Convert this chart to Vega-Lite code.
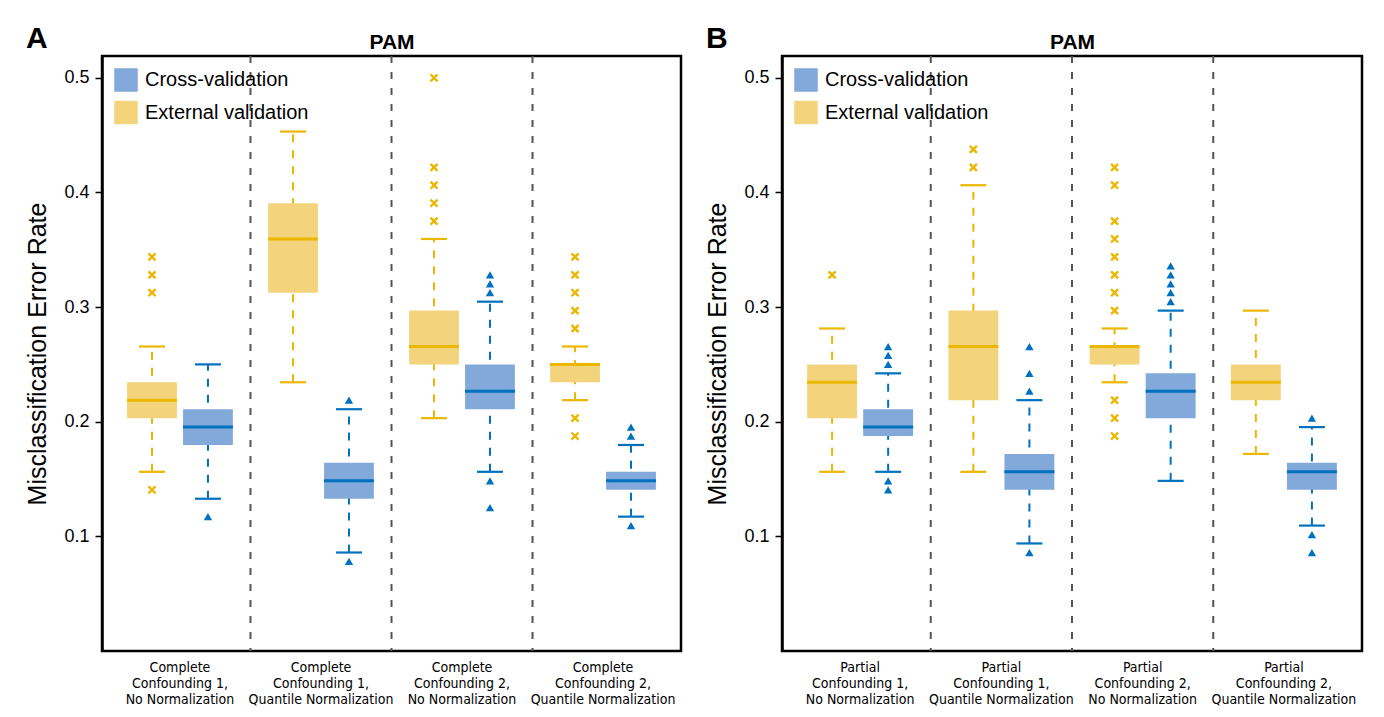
{
  "$schema": "https://vega.github.io/schema/vega-lite/v6.json",
  "background": "white",
  "padding": {"left": 24, "top": 22, "right": 5, "bottom": 5},
  "bounds": "flush",
  "spacing": 101,
  "datasets": {
    "dividers": [
      {"panel": "A", "group": "Complete\nConfounding 1,\nQuantile Normalization"},
      {"panel": "A", "group": "Complete\nConfounding 2,\nNo Normalization"},
      {"panel": "A", "group": "Complete\nConfounding 2,\nQuantile Normalization"},
      {"panel": "B", "group": "Partial\nConfounding 1,\nQuantile Normalization"},
      {"panel": "B", "group": "Partial\nConfounding 2,\nNo Normalization"},
      {"panel": "B", "group": "Partial\nConfounding 2,\nQuantile Normalization"}
    ],
    "boxes": [
      {"panel": "A", "group": "Complete\nConfounding 1,\nNo Normalization", "type": "External validation", "lower": 0.1563, "q1": 0.2031, "median": 0.2188, "q3": 0.2344, "upper": 0.2656},
      {"panel": "A", "group": "Complete\nConfounding 1,\nNo Normalization", "type": "Cross-validation", "lower": 0.1328, "q1": 0.1797, "median": 0.1953, "q3": 0.2109, "upper": 0.25},
      {"panel": "A", "group": "Complete\nConfounding 1,\nQuantile Normalization", "type": "External validation", "lower": 0.2344, "q1": 0.3125, "median": 0.3594, "q3": 0.3906, "upper": 0.4531},
      {"panel": "A", "group": "Complete\nConfounding 1,\nQuantile Normalization", "type": "Cross-validation", "lower": 0.0859, "q1": 0.1328, "median": 0.1484, "q3": 0.1641, "upper": 0.2109},
      {"panel": "A", "group": "Complete\nConfounding 2,\nNo Normalization", "type": "External validation", "lower": 0.2031, "q1": 0.25, "median": 0.2656, "q3": 0.2969, "upper": 0.3594},
      {"panel": "A", "group": "Complete\nConfounding 2,\nNo Normalization", "type": "Cross-validation", "lower": 0.1563, "q1": 0.2109, "median": 0.2266, "q3": 0.25, "upper": 0.3047},
      {"panel": "A", "group": "Complete\nConfounding 2,\nQuantile Normalization", "type": "External validation", "lower": 0.2188, "q1": 0.2344, "median": 0.25, "q3": 0.25, "upper": 0.2656},
      {"panel": "A", "group": "Complete\nConfounding 2,\nQuantile Normalization", "type": "Cross-validation", "lower": 0.1172, "q1": 0.1406, "median": 0.1484, "q3": 0.1563, "upper": 0.1797},
      {"panel": "B", "group": "Partial\nConfounding 1,\nNo Normalization", "type": "External validation", "lower": 0.1563, "q1": 0.2031, "median": 0.2344, "q3": 0.25, "upper": 0.2813},
      {"panel": "B", "group": "Partial\nConfounding 1,\nNo Normalization", "type": "Cross-validation", "lower": 0.1563, "q1": 0.1875, "median": 0.1953, "q3": 0.2109, "upper": 0.2422},
      {"panel": "B", "group": "Partial\nConfounding 1,\nQuantile Normalization", "type": "External validation", "lower": 0.1563, "q1": 0.2188, "median": 0.2656, "q3": 0.2969, "upper": 0.4063},
      {"panel": "B", "group": "Partial\nConfounding 1,\nQuantile Normalization", "type": "Cross-validation", "lower": 0.0938, "q1": 0.1406, "median": 0.1563, "q3": 0.1719, "upper": 0.2188},
      {"panel": "B", "group": "Partial\nConfounding 2,\nNo Normalization", "type": "External validation", "lower": 0.2344, "q1": 0.25, "median": 0.2656, "q3": 0.2656, "upper": 0.2813},
      {"panel": "B", "group": "Partial\nConfounding 2,\nNo Normalization", "type": "Cross-validation", "lower": 0.1484, "q1": 0.2031, "median": 0.2266, "q3": 0.2422, "upper": 0.2969},
      {"panel": "B", "group": "Partial\nConfounding 2,\nQuantile Normalization", "type": "External validation", "lower": 0.1719, "q1": 0.2188, "median": 0.2344, "q3": 0.25, "upper": 0.2969},
      {"panel": "B", "group": "Partial\nConfounding 2,\nQuantile Normalization", "type": "Cross-validation", "lower": 0.1094, "q1": 0.1406, "median": 0.1563, "q3": 0.1641, "upper": 0.1953}
    ],
    "outliers": [
      {"panel": "A", "group": "Complete\nConfounding 1,\nNo Normalization", "type": "External validation", "value": 0.3438},
      {"panel": "A", "group": "Complete\nConfounding 1,\nNo Normalization", "type": "External validation", "value": 0.3281},
      {"panel": "A", "group": "Complete\nConfounding 1,\nNo Normalization", "type": "External validation", "value": 0.3125},
      {"panel": "A", "group": "Complete\nConfounding 1,\nNo Normalization", "type": "External validation", "value": 0.1406},
      {"panel": "A", "group": "Complete\nConfounding 1,\nNo Normalization", "type": "Cross-validation", "value": 0.1172},
      {"panel": "A", "group": "Complete\nConfounding 1,\nQuantile Normalization", "type": "Cross-validation", "value": 0.2188},
      {"panel": "A", "group": "Complete\nConfounding 1,\nQuantile Normalization", "type": "Cross-validation", "value": 0.0781},
      {"panel": "A", "group": "Complete\nConfounding 2,\nNo Normalization", "type": "External validation", "value": 0.5},
      {"panel": "A", "group": "Complete\nConfounding 2,\nNo Normalization", "type": "External validation", "value": 0.4219},
      {"panel": "A", "group": "Complete\nConfounding 2,\nNo Normalization", "type": "External validation", "value": 0.4063},
      {"panel": "A", "group": "Complete\nConfounding 2,\nNo Normalization", "type": "External validation", "value": 0.3906},
      {"panel": "A", "group": "Complete\nConfounding 2,\nNo Normalization", "type": "External validation", "value": 0.375},
      {"panel": "A", "group": "Complete\nConfounding 2,\nNo Normalization", "type": "Cross-validation", "value": 0.3281},
      {"panel": "A", "group": "Complete\nConfounding 2,\nNo Normalization", "type": "Cross-validation", "value": 0.3203},
      {"panel": "A", "group": "Complete\nConfounding 2,\nNo Normalization", "type": "Cross-validation", "value": 0.3125},
      {"panel": "A", "group": "Complete\nConfounding 2,\nNo Normalization", "type": "Cross-validation", "value": 0.1484},
      {"panel": "A", "group": "Complete\nConfounding 2,\nNo Normalization", "type": "Cross-validation", "value": 0.125},
      {"panel": "A", "group": "Complete\nConfounding 2,\nQuantile Normalization", "type": "External validation", "value": 0.3438},
      {"panel": "A", "group": "Complete\nConfounding 2,\nQuantile Normalization", "type": "External validation", "value": 0.3281},
      {"panel": "A", "group": "Complete\nConfounding 2,\nQuantile Normalization", "type": "External validation", "value": 0.3125},
      {"panel": "A", "group": "Complete\nConfounding 2,\nQuantile Normalization", "type": "External validation", "value": 0.2969},
      {"panel": "A", "group": "Complete\nConfounding 2,\nQuantile Normalization", "type": "External validation", "value": 0.2813},
      {"panel": "A", "group": "Complete\nConfounding 2,\nQuantile Normalization", "type": "External validation", "value": 0.2031},
      {"panel": "A", "group": "Complete\nConfounding 2,\nQuantile Normalization", "type": "External validation", "value": 0.1875},
      {"panel": "A", "group": "Complete\nConfounding 2,\nQuantile Normalization", "type": "Cross-validation", "value": 0.1953},
      {"panel": "A", "group": "Complete\nConfounding 2,\nQuantile Normalization", "type": "Cross-validation", "value": 0.1875},
      {"panel": "A", "group": "Complete\nConfounding 2,\nQuantile Normalization", "type": "Cross-validation", "value": 0.1094},
      {"panel": "B", "group": "Partial\nConfounding 1,\nNo Normalization", "type": "External validation", "value": 0.3281},
      {"panel": "B", "group": "Partial\nConfounding 1,\nNo Normalization", "type": "Cross-validation", "value": 0.2656},
      {"panel": "B", "group": "Partial\nConfounding 1,\nNo Normalization", "type": "Cross-validation", "value": 0.2578},
      {"panel": "B", "group": "Partial\nConfounding 1,\nNo Normalization", "type": "Cross-validation", "value": 0.25},
      {"panel": "B", "group": "Partial\nConfounding 1,\nNo Normalization", "type": "Cross-validation", "value": 0.1484},
      {"panel": "B", "group": "Partial\nConfounding 1,\nNo Normalization", "type": "Cross-validation", "value": 0.1406},
      {"panel": "B", "group": "Partial\nConfounding 1,\nQuantile Normalization", "type": "External validation", "value": 0.4375},
      {"panel": "B", "group": "Partial\nConfounding 1,\nQuantile Normalization", "type": "External validation", "value": 0.4219},
      {"panel": "B", "group": "Partial\nConfounding 1,\nQuantile Normalization", "type": "Cross-validation", "value": 0.2656},
      {"panel": "B", "group": "Partial\nConfounding 1,\nQuantile Normalization", "type": "Cross-validation", "value": 0.2422},
      {"panel": "B", "group": "Partial\nConfounding 1,\nQuantile Normalization", "type": "Cross-validation", "value": 0.2266},
      {"panel": "B", "group": "Partial\nConfounding 1,\nQuantile Normalization", "type": "Cross-validation", "value": 0.0859},
      {"panel": "B", "group": "Partial\nConfounding 2,\nNo Normalization", "type": "External validation", "value": 0.4219},
      {"panel": "B", "group": "Partial\nConfounding 2,\nNo Normalization", "type": "External validation", "value": 0.4063},
      {"panel": "B", "group": "Partial\nConfounding 2,\nNo Normalization", "type": "External validation", "value": 0.375},
      {"panel": "B", "group": "Partial\nConfounding 2,\nNo Normalization", "type": "External validation", "value": 0.3594},
      {"panel": "B", "group": "Partial\nConfounding 2,\nNo Normalization", "type": "External validation", "value": 0.3438},
      {"panel": "B", "group": "Partial\nConfounding 2,\nNo Normalization", "type": "External validation", "value": 0.3281},
      {"panel": "B", "group": "Partial\nConfounding 2,\nNo Normalization", "type": "External validation", "value": 0.3125},
      {"panel": "B", "group": "Partial\nConfounding 2,\nNo Normalization", "type": "External validation", "value": 0.2969},
      {"panel": "B", "group": "Partial\nConfounding 2,\nNo Normalization", "type": "External validation", "value": 0.2188},
      {"panel": "B", "group": "Partial\nConfounding 2,\nNo Normalization", "type": "External validation", "value": 0.2031},
      {"panel": "B", "group": "Partial\nConfounding 2,\nNo Normalization", "type": "External validation", "value": 0.1875},
      {"panel": "B", "group": "Partial\nConfounding 2,\nNo Normalization", "type": "Cross-validation", "value": 0.3359},
      {"panel": "B", "group": "Partial\nConfounding 2,\nNo Normalization", "type": "Cross-validation", "value": 0.3281},
      {"panel": "B", "group": "Partial\nConfounding 2,\nNo Normalization", "type": "Cross-validation", "value": 0.3203},
      {"panel": "B", "group": "Partial\nConfounding 2,\nNo Normalization", "type": "Cross-validation", "value": 0.3125},
      {"panel": "B", "group": "Partial\nConfounding 2,\nNo Normalization", "type": "Cross-validation", "value": 0.3047},
      {"panel": "B", "group": "Partial\nConfounding 2,\nQuantile Normalization", "type": "Cross-validation", "value": 0.2031},
      {"panel": "B", "group": "Partial\nConfounding 2,\nQuantile Normalization", "type": "Cross-validation", "value": 0.1016},
      {"panel": "B", "group": "Partial\nConfounding 2,\nQuantile Normalization", "type": "Cross-validation", "value": 0.0859}
    ]
  },
  "hconcat": [
    {
      "title": {"text": "A", "anchor": "start", "frame": "bounds", "fontSize": 30, "fontWeight": "bold", "baseline": "alphabetic", "offset": 0, "dy": 47, "color": "black"},
      "width": 579,
      "height": 595,
      "resolve": {"axis": {"x": "independent"}},
      "layer": [
        {
          "data": {"name": "dividers"},
          "transform": [{"filter": "datum.panel == 'A'"}],
          "mark": {"type": "rule", "color": "#555555", "strokeWidth": 2, "strokeDash": [7, 9]},
          "encoding": {
            "x": {"field": "group", "type": "nominal", "bandPosition": 0, "scale": {"paddingInner": 0, "paddingOuter": 0.053},
                  "axis": {"orient": "top", "title": "PAM", "labels": false, "ticks": false, "domain": false, "titleFontSize": 21, "titleFontWeight": "bold", "titleBaseline": "alphabetic", "titlePadding": 8, "titleColor": "black"}}
          }
        },
        {
          "data": {"name": "boxes"},
          "transform": [{"filter": "datum.panel == 'A'"}],
          "mark": {"type": "rule", "strokeWidth": 2, "strokeDash": [8, 8]},
          "encoding": {
            "x": {"field": "group", "type": "nominal", "axis": null},
            "xOffset": {"field": "type", "type": "nominal", "scale": {"domain": ["External validation", "Cross-validation"], "paddingInner": 0.11, "paddingOuter": 0.315}},
            "y": {"field": "lower", "type": "quantitative", "title": "Misclassification Error Rate", "scale": {"domain": [0, 0.519], "nice": false, "zero": false}, "axis": {"values": [0.1, 0.2, 0.3, 0.4, 0.5], "format": ".1f"}},
            "y2": {"field": "upper"},
            "color": {"field": "type", "type": "nominal", "scale": {"domain": ["External validation", "Cross-validation"], "range": ["#EBB700", "#0071BF"]}, "legend": null}
          }
        },
        {
          "data": {"name": "boxes"},
          "transform": [{"filter": "datum.panel == 'A'"}],
          "mark": {"type": "bar", "opacity": 1},
          "encoding": {
            "x": {"field": "group", "type": "nominal", "axis": {"orient": "bottom", "title": null, "labelAngle": 0, "ticks": false, "domain": false, "labelExpr": "split(datum.label, '\\n')", "labelFont": "Liberation Sans Narrow, DejaVu Sans Condensed, sans-serif", "labelFontSize": 14, "labelLineHeight": 16, "labelPadding": 9, "labelColor": "black", "labelLimit": 0}},
            "xOffset": {"field": "type", "type": "nominal"},
            "y": {"field": "q1", "type": "quantitative", "title": "Misclassification Error Rate", "axis": {"values": [0.1, 0.2, 0.3, 0.4, 0.5], "format": ".1f"}},
            "y2": {"field": "q3"},
            "fill": {"field": "type", "type": "nominal", "scale": {"domain": ["Cross-validation", "External validation"], "range": ["#82A9DA", "#F3D47D"]},
                     "legend": {"orient": "top-left", "title": null, "offset": 11.5, "padding": 0, "symbolType": "square", "symbolSize": 552, "symbolStrokeWidth": 0, "symbolOpacity": 1, "labelFontSize": 20, "labelOffset": 7, "rowPadding": 8.5, "labelColor": "black", "labelLimit": 0}}
          }
        },
        {
          "data": {"name": "boxes"},
          "transform": [{"filter": "datum.panel == 'A'"}],
          "mark": {"type": "tick", "orient": "horizontal", "size": 50, "thickness": 3, "opacity": 1},
          "encoding": {
            "x": {"field": "group", "type": "nominal", "axis": null},
            "xOffset": {"field": "type", "type": "nominal"},
            "y": {"field": "median", "type": "quantitative", "title": "Misclassification Error Rate"},
            "color": {"field": "type", "type": "nominal", "legend": null}
          }
        },
        {
          "data": {"name": "boxes"},
          "transform": [{"filter": "datum.panel == 'A'"}],
          "mark": {"type": "tick", "orient": "horizontal", "size": 26, "thickness": 2.2, "opacity": 1},
          "encoding": {
            "x": {"field": "group", "type": "nominal", "axis": null},
            "xOffset": {"field": "type", "type": "nominal"},
            "y": {"field": "lower", "type": "quantitative", "title": "Misclassification Error Rate"},
            "color": {"field": "type", "type": "nominal", "legend": null}
          }
        },
        {
          "data": {"name": "boxes"},
          "transform": [{"filter": "datum.panel == 'A'"}],
          "mark": {"type": "tick", "orient": "horizontal", "size": 26, "thickness": 2.2, "opacity": 1},
          "encoding": {
            "x": {"field": "group", "type": "nominal", "axis": null},
            "xOffset": {"field": "type", "type": "nominal"},
            "y": {"field": "upper", "type": "quantitative", "title": "Misclassification Error Rate"},
            "color": {"field": "type", "type": "nominal", "legend": null}
          }
        },
        {
          "data": {"name": "outliers"},
          "transform": [{"filter": "datum.panel == 'A' && datum.type == 'External validation'"}],
          "mark": {"type": "point", "shape": "M-1,-1L1,1M-1,1L1,-1", "filled": false, "stroke": "#EBB700", "strokeWidth": 2.4, "size": 50, "opacity": 1},
          "encoding": {
            "x": {"field": "group", "type": "nominal", "axis": null},
            "xOffset": {"field": "type", "type": "nominal"},
            "y": {"field": "value", "type": "quantitative", "title": "Misclassification Error Rate"}
          }
        },
        {
          "data": {"name": "outliers"},
          "transform": [{"filter": "datum.panel == 'A' && datum.type == 'Cross-validation'"}],
          "mark": {"type": "point", "shape": "triangle-up", "filled": true, "fill": "#0071BF", "size": 70, "opacity": 1},
          "encoding": {
            "x": {"field": "group", "type": "nominal", "axis": null},
            "xOffset": {"field": "type", "type": "nominal"},
            "y": {"field": "value", "type": "quantitative", "title": "Misclassification Error Rate"}
          }
        }
      ]
    },
    {
      "title": {"text": "B", "anchor": "start", "frame": "bounds", "fontSize": 30, "fontWeight": "bold", "baseline": "alphabetic", "offset": 0, "dy": 47, "color": "black"},
      "width": 580,
      "height": 595,
      "resolve": {"axis": {"x": "independent"}},
      "layer": [
        {
          "data": {"name": "dividers"},
          "transform": [{"filter": "datum.panel == 'B'"}],
          "mark": {"type": "rule", "color": "#555555", "strokeWidth": 2, "strokeDash": [7, 9]},
          "encoding": {
            "x": {"field": "group", "type": "nominal", "bandPosition": 0, "scale": {"paddingInner": 0, "paddingOuter": 0.053},
                  "axis": {"orient": "top", "title": "PAM", "labels": false, "ticks": false, "domain": false, "titleFontSize": 21, "titleFontWeight": "bold", "titleBaseline": "alphabetic", "titlePadding": 8, "titleColor": "black"}}
          }
        },
        {
          "data": {"name": "boxes"},
          "transform": [{"filter": "datum.panel == 'B'"}],
          "mark": {"type": "rule", "strokeWidth": 2, "strokeDash": [8, 8]},
          "encoding": {
            "x": {"field": "group", "type": "nominal", "axis": null},
            "xOffset": {"field": "type", "type": "nominal", "scale": {"domain": ["External validation", "Cross-validation"], "paddingInner": 0.11, "paddingOuter": 0.315}},
            "y": {"field": "lower", "type": "quantitative", "title": "Misclassification Error Rate", "scale": {"domain": [0, 0.519], "nice": false, "zero": false}, "axis": {"values": [0.1, 0.2, 0.3, 0.4, 0.5], "format": ".1f"}},
            "y2": {"field": "upper"},
            "color": {"field": "type", "type": "nominal", "scale": {"domain": ["External validation", "Cross-validation"], "range": ["#EBB700", "#0071BF"]}, "legend": null}
          }
        },
        {
          "data": {"name": "boxes"},
          "transform": [{"filter": "datum.panel == 'B'"}],
          "mark": {"type": "bar", "opacity": 1},
          "encoding": {
            "x": {"field": "group", "type": "nominal", "axis": {"orient": "bottom", "title": null, "labelAngle": 0, "ticks": false, "domain": false, "labelExpr": "split(datum.label, '\\n')", "labelFont": "Liberation Sans Narrow, DejaVu Sans Condensed, sans-serif", "labelFontSize": 14, "labelLineHeight": 16, "labelPadding": 9, "labelColor": "black", "labelLimit": 0}},
            "xOffset": {"field": "type", "type": "nominal"},
            "y": {"field": "q1", "type": "quantitative", "title": "Misclassification Error Rate", "axis": {"values": [0.1, 0.2, 0.3, 0.4, 0.5], "format": ".1f"}},
            "y2": {"field": "q3"},
            "fill": {"field": "type", "type": "nominal", "scale": {"domain": ["Cross-validation", "External validation"], "range": ["#82A9DA", "#F3D47D"]},
                     "legend": {"orient": "top-left", "title": null, "offset": 11.5, "padding": 0, "symbolType": "square", "symbolSize": 552, "symbolStrokeWidth": 0, "symbolOpacity": 1, "labelFontSize": 20, "labelOffset": 7, "rowPadding": 8.5, "labelColor": "black", "labelLimit": 0}}
          }
        },
        {
          "data": {"name": "boxes"},
          "transform": [{"filter": "datum.panel == 'B'"}],
          "mark": {"type": "tick", "orient": "horizontal", "size": 50, "thickness": 3, "opacity": 1},
          "encoding": {
            "x": {"field": "group", "type": "nominal", "axis": null},
            "xOffset": {"field": "type", "type": "nominal"},
            "y": {"field": "median", "type": "quantitative", "title": "Misclassification Error Rate"},
            "color": {"field": "type", "type": "nominal", "legend": null}
          }
        },
        {
          "data": {"name": "boxes"},
          "transform": [{"filter": "datum.panel == 'B'"}],
          "mark": {"type": "tick", "orient": "horizontal", "size": 26, "thickness": 2.2, "opacity": 1},
          "encoding": {
            "x": {"field": "group", "type": "nominal", "axis": null},
            "xOffset": {"field": "type", "type": "nominal"},
            "y": {"field": "lower", "type": "quantitative", "title": "Misclassification Error Rate"},
            "color": {"field": "type", "type": "nominal", "legend": null}
          }
        },
        {
          "data": {"name": "boxes"},
          "transform": [{"filter": "datum.panel == 'B'"}],
          "mark": {"type": "tick", "orient": "horizontal", "size": 26, "thickness": 2.2, "opacity": 1},
          "encoding": {
            "x": {"field": "group", "type": "nominal", "axis": null},
            "xOffset": {"field": "type", "type": "nominal"},
            "y": {"field": "upper", "type": "quantitative", "title": "Misclassification Error Rate"},
            "color": {"field": "type", "type": "nominal", "legend": null}
          }
        },
        {
          "data": {"name": "outliers"},
          "transform": [{"filter": "datum.panel == 'B' && datum.type == 'External validation'"}],
          "mark": {"type": "point", "shape": "M-1,-1L1,1M-1,1L1,-1", "filled": false, "stroke": "#EBB700", "strokeWidth": 2.4, "size": 50, "opacity": 1},
          "encoding": {
            "x": {"field": "group", "type": "nominal", "axis": null},
            "xOffset": {"field": "type", "type": "nominal"},
            "y": {"field": "value", "type": "quantitative", "title": "Misclassification Error Rate"}
          }
        },
        {
          "data": {"name": "outliers"},
          "transform": [{"filter": "datum.panel == 'B' && datum.type == 'Cross-validation'"}],
          "mark": {"type": "point", "shape": "triangle-up", "filled": true, "fill": "#0071BF", "size": 70, "opacity": 1},
          "encoding": {
            "x": {"field": "group", "type": "nominal", "axis": null},
            "xOffset": {"field": "type", "type": "nominal"},
            "y": {"field": "value", "type": "quantitative", "title": "Misclassification Error Rate"}
          }
        }
      ]
    }
  ],
  "resolve": {"scale": {"x": "independent", "xOffset": "independent", "y": "independent", "fill": "independent", "color": "independent"}, "legend": {"fill": "independent"}},
  "config": {
    "font": "Liberation Sans",
    "view": {"stroke": "black", "strokeWidth": 2.5},
    "axis": {"grid": false},
    "axisY": {"tickSize": 7, "tickWidth": 1.5, "tickColor": "black", "labelFontSize": 18, "labelColor": "black", "labelPadding": 6, "domainColor": "black", "domainWidth": 2.5, "titleFontSize": 25, "titleFontWeight": "normal", "titleColor": "black", "titlePadding": 13}
  }
}
